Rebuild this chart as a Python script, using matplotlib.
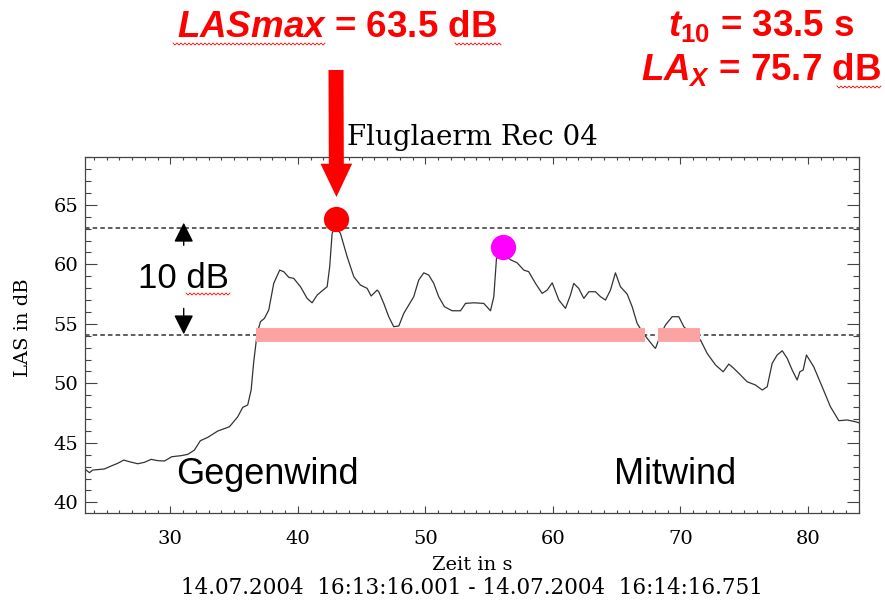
import numpy as np
import matplotlib
matplotlib.use("Agg")
import matplotlib.pyplot as plt
from matplotlib.lines import Line2D
from matplotlib.ticker import MultipleLocator

# time (s) and level (dB)
t = [23.39, 23.65, 23.91, 24.82, 25.35, 25.87, 26.34, 26.78, 27.44, 27.96,
     28.49, 29.00, 29.53, 30.10, 30.84, 31.36, 31.88, 32.35, 32.93, 33.71,
     34.63, 35.28, 35.67, 36.06, 36.33, 36.53, 36.80, 37.06, 37.37, 37.71,
     38.10, 38.57, 38.89, 39.28, 39.67, 40.20, 40.72, 41.11, 41.51, 41.90,
     42.29, 42.49, 42.68, 42.94, 43.33, 43.86, 44.38, 44.90, 45.43, 45.74,
     46.21, 46.34, 46.73, 47.12, 47.51, 47.91, 48.30, 48.69, 49.08, 49.47,
     49.87, 50.26, 50.65, 51.04, 51.49, 52.09, 52.75, 53.14, 53.79, 54.57,
     55.10, 55.36, 55.57, 55.75, 56.12, 56.67, 57.19, 57.71, 58.10, 58.63,
     59.15, 59.55, 59.94, 60.46, 60.98, 61.37, 61.63, 62.02, 62.42, 62.81,
     63.33, 63.73, 64.12, 64.51, 64.90, 65.29, 65.82, 66.21, 66.60, 67.00,
     67.39, 67.91, 68.04, 68.43, 68.82, 69.35, 69.87, 70.26, 70.78, 71.57,
     72.09, 72.75, 73.35, 73.79, 74.18, 74.71, 75.23, 75.88, 76.41, 76.80,
     77.19, 77.58, 77.98, 78.37, 78.76, 79.15, 79.36, 79.62, 79.88, 80.45,
     81.11, 81.76, 82.42, 83.07, 83.73, 84.12]
las = [42.71, 42.49, 42.71, 42.80, 43.05, 43.28, 43.55, 43.41, 43.24, 43.36,
       43.61, 43.50, 43.47, 43.83, 43.92, 44.03, 44.39, 45.18, 45.46, 45.99,
       46.35, 47.19, 47.98, 48.18, 49.44, 51.79, 54.20, 55.18, 55.46, 56.16,
       58.40, 59.52, 59.38, 58.91, 58.82, 58.12, 57.14, 56.77, 57.42, 57.78,
       58.12, 59.80, 62.61, 63.16, 62.61, 60.64, 58.96, 58.26, 57.98, 57.34,
       57.84, 57.70, 56.72, 55.60, 54.76, 54.82, 55.88, 56.58, 57.28, 58.68,
       59.29, 59.10, 58.40, 57.28, 56.44, 56.10, 56.10, 56.72, 56.77, 56.72,
       56.10, 57.28, 60.50, 60.92, 60.86, 60.39, 60.13, 59.52, 59.38, 58.40,
       57.56, 57.84, 58.45, 57.00, 56.30, 57.42, 58.40, 57.98, 57.14, 57.70,
       57.70, 57.28, 57.00, 57.84, 59.29, 58.12, 57.50, 56.44, 55.04, 54.34,
       53.78, 53.08, 52.94, 54.06, 54.90, 55.60, 55.60, 54.76, 54.20, 53.64,
       52.52, 51.54, 50.97, 51.62, 51.26, 50.70, 50.13, 49.86, 49.44, 49.71,
       51.68, 52.38, 52.74, 52.10, 51.12, 50.28, 50.97, 51.12, 52.38, 51.39,
       49.71, 48.03, 46.86, 46.92, 46.77, 46.64]

ref_levels = [63.07, 54.03]          # dashed lines (max, max - 10 dB)
bar_start = [36.72, 68.25]           # time above the 10 dB line
bar_end = [67.2, 71.5]
bar_level = 54.1
max_point = (43.0, 63.8)             # LASmax
second_point = (56.06, 61.5)

plt.rcParams['mathtext.fontset'] = 'custom'
plt.rcParams['mathtext.it'] = 'Liberation Sans:italic:bold'
plt.rcParams['mathtext.rm'] = 'Liberation Sans:bold'
plt.rcParams['mathtext.bf'] = 'Liberation Sans:bold'

serif = 'DejaVu Serif'
sans = 'Liberation Sans'
axcol = '#444444'

fig = plt.figure(figsize=(8.85, 6.03), dpi=100)
ax = fig.add_axes([85/885, 1 - 513/603, 774/885, 355.7/603])

ax.plot(t, las, color='#333333', lw=0.9, zorder=2)
for lev in ref_levels:
    ax.axhline(lev, color='#333333', lw=1.1, ls=(0, (3, 2)), zorder=1)
ax.hlines([bar_level] * len(bar_start), bar_start, bar_end, color='#FBA3A3',
          lw=10, zorder=3)
ax.scatter(*max_point, s=330, color='#FF0000', zorder=4, linewidths=0)
ax.scatter(*second_point, s=330, color='#FF00FF', zorder=4, linewidths=0)

ax.set_xlim(23.3, 84.0)
ax.set_ylim(39.1, 69.0)
ax.xaxis.set_major_locator(MultipleLocator(10))
ax.xaxis.set_minor_locator(MultipleLocator(1))
ax.yaxis.set_major_locator(MultipleLocator(5))
ax.yaxis.set_minor_locator(MultipleLocator(1))
ax.tick_params(axis='both', which='both', direction='in', top=True, right=True,
               color=axcol, width=0.8)
ax.tick_params(axis='x', which='major', length=5, pad=12, labelsize=14)
ax.tick_params(axis='x', which='minor', length=2.5)
ax.tick_params(axis='y', which='major', length=8.5, pad=5, labelsize=14)
ax.tick_params(axis='y', which='minor', length=4.3)
for lab in ax.get_xticklabels() + ax.get_yticklabels():
    lab.set_family(serif)
for sp in ax.spines.values():
    sp.set_color(axcol)
    sp.set_linewidth(0.9)

ax.set_title('Fluglaerm Rec 04', family=serif, fontsize=20, pad=9)
ax.set_xlabel('Zeit in s', family=serif, fontsize=14, labelpad=6)
ax.set_ylabel('LAS in dB', family=serif, fontsize=14)
ax.yaxis.set_label_coords(-0.068, 0.52)
fig.text(0.5*(85 + 859)/885, 0.025, '14.07.2004  16:13:16.001 - 14.07.2004  16:14:16.751',
         family=serif, fontsize=15.5, ha='center', va='center')

# black 10 dB arrows
arr = dict(arrowstyle='-|>,head_length=0.4,head_width=0.2', color='black',
           lw=1, mutation_scale=30, shrinkA=0, shrinkB=0)
ax.annotate('', xy=(31.04, 63.5), xytext=(31.04, 61.6), arrowprops=arr)
ax.annotate('', xy=(31.04, 54.12), xytext=(31.04, 56.3), arrowprops=arr)
ax.text(31.0, 58.0, '10 dB', family=sans, fontsize=25, ha='center', va='baseline')
ax.text(30.47, 41.55, 'Gegenwind', family=sans, fontsize=26, ha='left', va='baseline')
ax.text(64.75, 41.5, 'Mitwind', family=sans, fontsize=26, ha='left', va='baseline')

# big red arrow down to LASmax
ax.annotate('', xy=(43.02, 65.66), xytext=(336, 603 - 70), textcoords='figure pixels',
            arrowprops=dict(arrowstyle='simple,head_length=1.0,head_width=0.95,tail_width=0.45',
                            color='#FF0000', lw=0, mutation_scale=24, shrinkA=0, shrinkB=0))

fig.text(337.5/885, 1 - 37/603, r'$LASmax$ = 63.5 dB', color='#FF0000', family=sans,
         weight='bold', fontsize=26.5, ha='center', va='baseline')
fig.text(761/885, 1 - 36/603, r'$t_{\mathit{10}}$ = 33.5 s', color='#FF0000', family=sans,
         weight='bold', fontsize=26.5, ha='center', va='baseline')
fig.text(761/885, 1 - 80/603, r'$LA_{X}$ = 75.7 dB', color='#FF0000', family=sans,
         weight='bold', fontsize=26.5, ha='center', va='baseline')

# red spell-check squiggles under some words (pixel positions from the slide)
squiggles = [(173, 325, 44), (455, 502, 44), (837, 882, 87), (186, 231, 294)]
for x0, x1, y0 in squiggles:
    xs = np.arange(x0, x1 + 1, 2.0)
    ys = y0 + np.where(np.arange(len(xs)) % 2 == 0, -1.0, 1.0)
    fig.add_artist(Line2D(xs/885, 1 - ys/603, transform=fig.transFigure,
                          color='#FF0000', lw=0.6))

fig.savefig('out.png', dpi=100)
